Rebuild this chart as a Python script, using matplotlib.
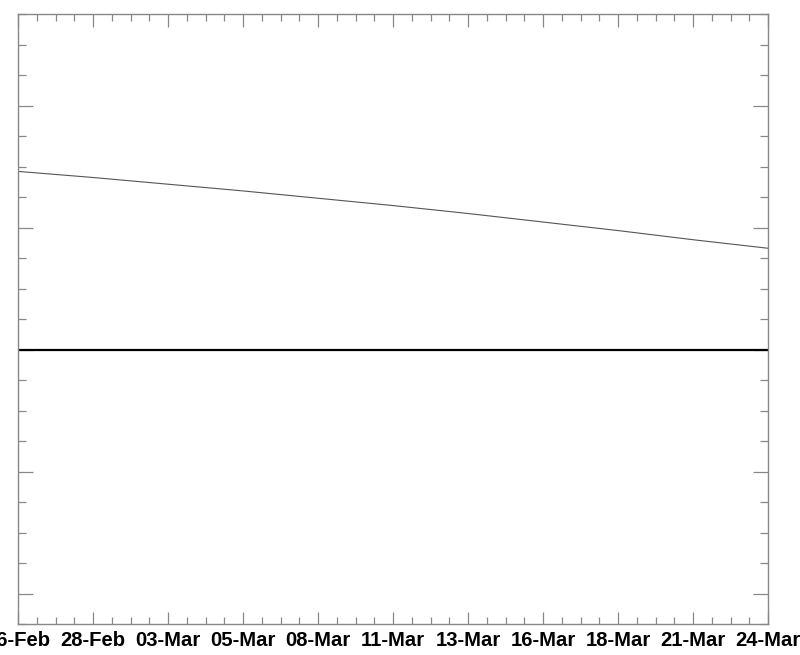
import matplotlib
matplotlib.use("Agg")
import matplotlib.pyplot as plt
from matplotlib.ticker import MultipleLocator

# DATA

date_labels = ["26-Feb", "28-Feb", "03-Mar", "05-Mar", "08-Mar", "11-Mar",
               "13-Mar", "16-Mar", "18-Mar", "21-Mar", "24-Mar"]
series = [2.92, 2.82, 2.71, 2.60, 2.48, 2.36, 2.23, 2.09, 1.95, 1.80, 1.66]

##############################################################################

# PLOT

plt.rcParams["font.family"] = ["Liberation Sans", "DejaVu Sans"]

fig = plt.figure(figsize=(8, 6.55), dpi=100)
ax = fig.add_axes([0.0225, 0.0473, 0.9375, 0.9313])

x_vals = range(len(series))
ax.plot(x_vals, series, color="#555555", lw=0.8)
ax.axhline(0, color="black", lw=1.6)

ax.set_xlim(0, len(series) - 1)
ax.set_ylim(-4.5, 5.5)

ax.set_xticks(list(x_vals))
ax.set_xticklabels(date_labels, fontsize=14.6, fontweight="bold")
ax.xaxis.set_minor_locator(MultipleLocator(0.25))
ax.yaxis.set_major_locator(MultipleLocator(2))
ax.yaxis.set_minor_locator(MultipleLocator(0.5))
ax.set_yticklabels([])

ax.tick_params(axis="both", which="both", direction="in", color="#888888",
               top=True, right=True, width=0.9)
ax.tick_params(axis="x", which="major", length=9, pad=5)
ax.tick_params(axis="x", which="minor", length=5)
ax.tick_params(axis="y", which="major", length=11, labelleft=False)
ax.tick_params(axis="y", which="minor", length=5.5)

for side in ax.spines.values():
    side.set_color("#888888")
    side.set_linewidth(1)

plt.savefig("out.png", dpi=100)
